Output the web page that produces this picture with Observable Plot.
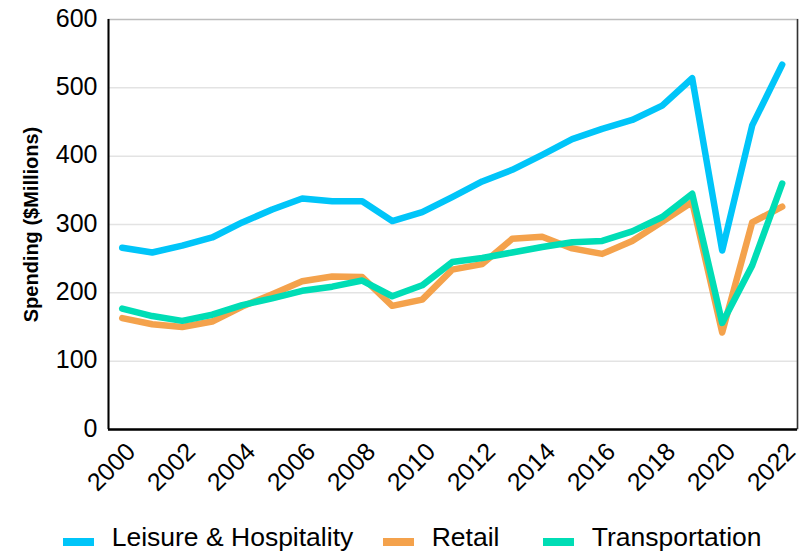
<!DOCTYPE html>
<html><head><meta charset="utf-8">
<script src="https://cdn.jsdelivr.net/npm/d3@7"></script>
<script src="https://cdn.jsdelivr.net/npm/@observablehq/plot@0.6"></script>
<style>
body{margin:0;background:#fff;font-family:"Liberation Sans",Arial,sans-serif;}
#wrap{position:relative;width:810px;height:551px;overflow:hidden;}
#legend{position:absolute;left:0;top:510px;width:810px;height:41px;}
.sw{position:absolute;width:31px;height:8px;top:28px;}
.lt{position:absolute;top:14px;font-size:26.5px;line-height:26px;color:#000;white-space:nowrap;}
</style></head><body>
<div id="wrap"><div id="chart"></div><div id="legend"></div></div>
<script>
const years = [2000,2001,2002,2003,2004,2005,2006,2007,2008,2009,2010,2011,2012,2013,2014,2015,2016,2017,2018,2019,2020,2021,2022];
const leisure = [266,259,269,281,303,322,338,334,334,305,318,340,363,380,402,425,440,453,474,514,262,445,534];
const retail = [163,154,150,158,180,198,217,224,223,181,190,234,242,279,282,265,257,276,304,333,142,303,326];
const transportation = [177,166,159,168,182,192,203,209,218,195,211,245,251,259,267,274,276,290,311,345,156,240,360];
const seriesNames = ["Leisure & Hospitality","Retail","Transportation"];
const seriesColors = ["#00C5F9","#F4A24C","#00DDB5"];
const yTicks = [0,100,200,300,400,500,600];
const xTicks = [2000,2002,2004,2006,2008,2010,2012,2014,2016,2018,2020,2022];
const yLabel = "Spending ($Millions)";

const xDomain = [1999.543, 2022.51];
const font = '"Liberation Sans", Arial, sans-serif';

const data = [];
[leisure, retail, transportation].forEach((vals, i) =>
  vals.forEach((v, j) => data.push({series: seriesNames[i], year: years[j], value: v})));

const chart = Plot.plot({
  width: 810, height: 510,
  marginLeft: 108, marginRight: 13, marginTop: 19, marginBottom: 81,
  style: {fontFamily: font, background: "#fff", color: "#000"},
  x: {type: "linear", domain: xDomain},
  y: {domain: [0, 600]},
  color: {domain: seriesNames, range: seriesColors},
  marks: [
    Plot.gridY(yTicks.filter(t => t > 0 && t < 600), {stroke: "#e3e3e3", strokeOpacity: 1, strokeWidth: 1.5}),
    Plot.frame({stroke: "#bdbdbd", strokeWidth: 1.5}),
    Plot.ruleX([xDomain[1]], {stroke: "#333", strokeWidth: 1.5}),
    Plot.line(data, {x: "year", y: "value", z: "series", stroke: "series", strokeWidth: 6.5, strokeLinecap: "round", strokeLinejoin: "round"}),
    Plot.ruleX([xDomain[0]], {stroke: "#000", strokeWidth: 2}),
    Plot.ruleY([0], {stroke: "#000", strokeWidth: 2.5}),
    Plot.axisY(yTicks, {tickSize: 0, tickPadding: 11, fontSize: 25, label: null, dy: -1}),
    Plot.axisX(xTicks, {tickSize: 0, tickPadding: 0, tickRotate: -45, fontSize: 25, label: null, tickFormat: d => String(d), dx: 9, dy: 18}),
    Plot.text([yLabel], {frameAnchor: "left", textAnchor: "middle", rotate: -90, dx: -77, dy: 0, fontWeight: "bold", fontSize: 20, fill: "#000"})
  ]
});
document.getElementById("chart").appendChild(chart);

const legendPos = [[63, 111.7], [382.7, 431.7], [543, 591.7]];
const legend = document.getElementById("legend");
seriesNames.forEach((name, i) => {
  const sw = document.createElement("div");
  sw.className = "sw"; sw.style.left = legendPos[i][0] + "px"; sw.style.background = seriesColors[i];
  legend.appendChild(sw);
  const t = document.createElement("div");
  t.className = "lt"; t.style.left = legendPos[i][1] + "px"; t.textContent = name;
  legend.appendChild(t);
});
</script></body></html>
